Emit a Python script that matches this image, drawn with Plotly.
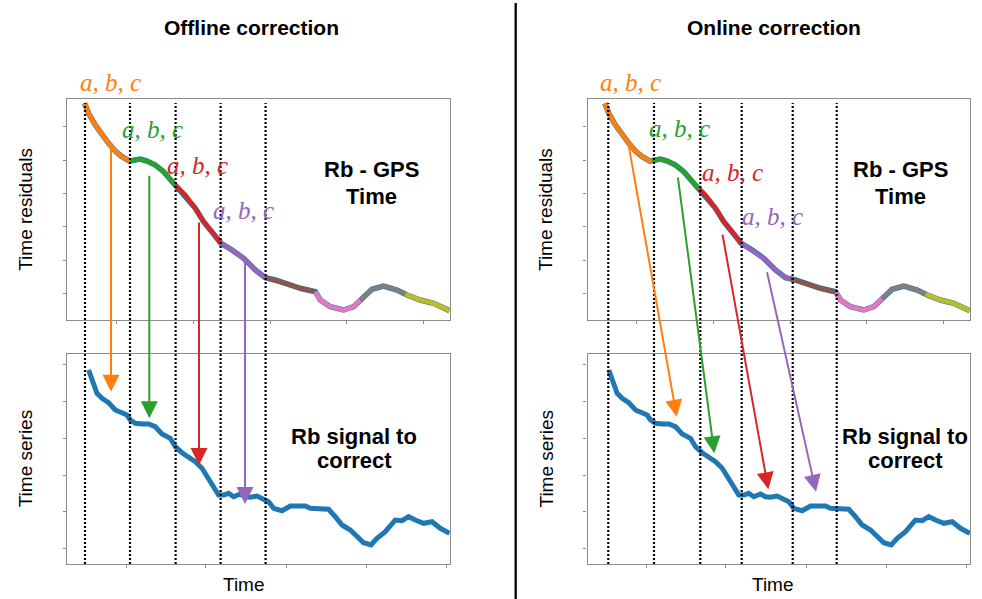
import numpy as np
import plotly.graph_objects as go

W, H = 982, 599

# ---------------- data ----------------
# time axis in arbitrary units (0 .. 382.5 across each panel)
res_t = [17.3, 21.3, 28, 34.7, 41.3, 48, 54.7, 62.3, 66.3, 73, 79.7, 88, 96.3, 108, 118,
         128, 136.3, 144.7, 153.7, 164.7, 176.3, 188, 198, 208, 216.3, 233, 248, 253, 263,
         276.3, 286.3, 294.7, 304.7, 316.3, 329.7, 339.7, 353, 366.3, 382.3]
res_y = [216.7, 206.7, 195, 185, 176.7, 169, 163.3, 159, 160, 161, 159, 155, 148.3, 135, 125,
         111.7, 98.3, 88.3, 76.7, 70, 61.7, 50, 42.3, 40, 37, 31.7, 28.3, 20, 13.3,
         10, 13.3, 21.7, 30.7, 34, 30, 25, 20, 16.7, 9.3]

ser_t = [21.3, 24.7, 29.7, 34.7, 41.3, 48, 54.7, 59.7, 63, 68, 74.7, 81.3, 88, 94.7, 103,
         108, 114.7, 123, 128, 134.7, 141.3, 148, 151.3, 156.3, 161.3, 166.3, 173, 178, 183,
         189.7, 196.3, 201.3, 206.3, 214.7, 223, 233, 238, 243, 253, 261.3, 268, 274.7, 283,
         289.7, 296.3, 303.7, 309.7, 318, 323, 328, 334.7, 341.3, 348, 356.3, 364.7, 373, 382.3]
ser_y = [194, 184, 170.7, 165.7, 161.3, 154, 150.7, 149, 144, 140.7, 140, 140, 137.3, 130, 125.7,
         117.3, 111.3, 105.7, 102.3, 95.7, 85.7, 74, 69, 69, 70.7, 67.3, 70, 67.3, 66.7,
         68, 64.7, 62.3, 55.7, 53.3, 58, 57.3, 58, 55.7, 55.7, 54.7, 47.3, 39, 34,
         27.3, 21.3, 19, 25.7, 32.3, 39, 44, 43.3, 47.3, 44, 40.7, 42.3, 35.7, 30.7]

seg_colors = ['#ff7f0e', '#2ca02c', '#d62728', '#9467bd', '#8c564b', '#e377c2', '#7f7f7f', '#bcbd22']
left_bounds = [17.3, 62.7, 108, 153.3, 198, 248, 293, 338, 382.3]
right_bounds = [17.3, 64.5, 111.5, 153.7, 203, 248.5, 294.5, 338, 382.3]
left_dotted = [17.7, 62.7, 108.3, 153.3, 198.3]
right_dotted = [20.8, 66.5, 112.8, 154.2, 205.2, 249.2]

# arrows: tail on residual panel (t, value) -> head on series panel (t, value)
left_tail_t = [43.7, 82, 131.7, 177.7]
left_tail_y = [171.7, 145.7, 99, 59]
left_head_t = [43.7, 82, 131.7, 177.7]
left_head_y = [172.3, 145.7, 99, 60]
right_tail_t = [40.8, 90.2, 134.8, 179.2]
right_tail_y = [176.7, 144, 86.7, 49.3]
right_head_t = [89.2, 126.8, 180.8, 228.5]
right_head_y = [147.3, 110.7, 74.7, 72.3]

# "a, b, c" label anchors (t, residual value at text baseline)
left_lab_t = [43.5, 84.7, 130.4, 176.4]
left_lab_y = [229, 182.3, 146, 101]
right_lab_t = [43.3, 91.7, 145, 184.7]
right_lab_y = [229, 183.3, 139.3, 95]

top_y_ticks = [26.7, 60, 93.3, 126.7, 160, 193.3]
bot_y_ticks = [15.7, 52.3, 89, 125.7, 163, 199.7]
top_x_ticks = [49.3, 126, 202.7, 279.3, 356]
bot_x_ticks = [58.7, 138.3, 218.7, 298.7, 378.7]

# ---------------- layout geometry ----------------
X_RANGE = [0, 382.5]
TOP_RANGE = [0, 221]
BOT_RANGE = [0, 210]
left_xdom = [67.3 / W, 449.8 / W]
right_xdom = [587.5 / W, 970 / W]
top_ydom = [1 - 320 / H, 1 - 99 / H]
bot_ydom = [1 - 564 / H, 1 - 354 / H]

SANS = "Liberation Sans, Arial, sans-serif"
SERIF = "Liberation Serif, Times New Roman, serif"


def xpix(t, dom):
    return (dom[0] + (t - X_RANGE[0]) / (X_RANGE[1] - X_RANGE[0]) * (dom[1] - dom[0])) * W


def ypix(v, dom, rng):
    return (1 - (dom[0] + (v - rng[0]) / (rng[1] - rng[0]) * (dom[1] - dom[0]))) * H


def segment(t, y, a, b):
    t = np.asarray(t, float)
    y = np.asarray(y, float)
    inner = (t > a) & (t < b)
    ts = np.concatenate([[a], t[inner], [b]])
    ys = np.concatenate([[np.interp(a, t, y)], y[inner], [np.interp(b, t, y)]])
    return ts, ys


fig = go.Figure()

panels = [
    dict(xa='x', ya='y', xb='x2', yb='y2', xdom=left_xdom, bounds=left_bounds, dotted=left_dotted,
         tail_t=left_tail_t, tail_y=left_tail_y, head_t=left_head_t, head_y=left_head_y,
         lab_t=left_lab_t, lab_y=left_lab_y, title='Offline correction', title_x=251.7, time_x=244,
         rb1_x=371, rb2_x=354),
    dict(xa='x3', ya='y3', xb='x4', yb='y4', xdom=right_xdom, bounds=right_bounds, dotted=right_dotted,
         tail_t=right_tail_t, tail_y=right_tail_y, head_t=right_head_t, head_y=right_head_y,
         lab_t=right_lab_t, lab_y=right_lab_y, title='Online correction', title_x=773.5, time_x=772.7,
         rb1_x=900, rb2_x=905),
]

annotations = []
shapes = []

for p in panels:
    # residual curve (blue underneath) + coloured segments
    fig.add_trace(go.Scatter(x=res_t, y=res_y, mode='lines', xaxis=p['xa'], yaxis=p['ya'],
                             line=dict(color='#1f77b4', width=5.5), hoverinfo='skip'))
    for i, c in enumerate(seg_colors):
        ts, ys = segment(res_t, res_y, p['bounds'][i], p['bounds'][i + 1])
        fig.add_trace(go.Scatter(x=ts, y=ys, mode='lines', xaxis=p['xa'], yaxis=p['ya'],
                                 line=dict(color=c, width=4.6), hoverinfo='skip'))
    # series to correct
    fig.add_trace(go.Scatter(x=ser_t, y=ser_y, mode='lines', xaxis=p['xb'], yaxis=p['yb'],
                             line=dict(color='#1f77b4', width=5), hoverinfo='skip'))

    # dotted separators spanning both panels
    for d in p['dotted']:
        shapes.append(dict(type='line', xref=p['xa'], yref='paper', x0=d, x1=d,
                           y0=bot_ydom[0], y1=top_ydom[1] - 4 / H,
                           line=dict(color='black', width=2.2, dash='2px,2px')))

    # arrows
    for i in range(4):
        hx = xpix(p['head_t'][i], p['xdom'])
        hy = ypix(p['head_y'][i], bot_ydom, BOT_RANGE)
        tx = xpix(p['tail_t'][i], p['xdom'])
        ty = ypix(p['tail_y'][i], top_ydom, TOP_RANGE)
        annotations.append(dict(xref='paper', yref='paper', x=hx / W, y=1 - hy / H,
                                axref='pixel', ayref='pixel', ax=tx - hx, ay=ty - hy,
                                text='', showarrow=True, arrowhead=2, arrowsize=1.7,
                                arrowwidth=2, arrowcolor=seg_colors[i], standoff=0, startstandoff=0))
        # "a, b, c" labels
        lx = xpix(p['lab_t'][i], p['xdom'])
        ly = ypix(p['lab_y'][i], top_ydom, TOP_RANGE) - 0.33 * 25
        annotations.append(dict(xref='paper', yref='paper', x=lx / W, y=1 - ly / H,
                                xanchor='center', yanchor='middle', showarrow=False,
                                text='a, b, c',
                                font=dict(family=SERIF, size=25, style='italic', color=seg_colors[i])))

    # texts
    annotations.append(dict(xref='paper', yref='paper', x=p['title_x'] / W, y=1 - 27.5 / H,
                            text=p['title'], showarrow=False, xanchor='center', yanchor='middle',
                            font=dict(family=SANS, size=21, weight='bold', color='black')))
    annotations.append(dict(xref='paper', yref='paper', x=p['rb1_x'] / W, y=1 - (177.3 - 0.35 * 22) / H,
                            text='Rb - GPS', showarrow=False, xanchor='center', yanchor='middle',
                            font=dict(family=SANS, size=22, weight='bold', color='black')))
    annotations.append(dict(xref='paper', yref='paper', x=p['rb1_x'] / W, y=1 - (204 - 0.35 * 22) / H,
                            text='Time', showarrow=False, xanchor='center', yanchor='middle',
                            font=dict(family=SANS, size=22, weight='bold', color='black')))
    annotations.append(dict(xref='paper', yref='paper', x=p['rb2_x'] / W, y=1 - (443.8 - 0.35 * 22) / H,
                            text='Rb signal to', showarrow=False, xanchor='center', yanchor='middle',
                            font=dict(family=SANS, size=22, weight='bold', color='black')))
    annotations.append(dict(xref='paper', yref='paper', x=p['rb2_x'] / W, y=1 - (468.3 - 0.35 * 22) / H,
                            text='correct', showarrow=False, xanchor='center', yanchor='middle',
                            font=dict(family=SANS, size=22, weight='bold', color='black')))
    annotations.append(dict(xref='paper', yref='paper', x=p['time_x'] / W, y=1 - 584 / H,
                            text='Time', showarrow=False, xanchor='center', yanchor='middle',
                            font=dict(family=SANS, size=19, color='black')))
    ylab_x = (p['xdom'][0] * W - 42) / W
    annotations.append(dict(xref='paper', yref='paper', x=ylab_x, y=(top_ydom[0] + top_ydom[1]) / 2,
                            text='Time residuals', showarrow=False, textangle=-90,
                            xanchor='center', yanchor='middle',
                            font=dict(family=SANS, size=19, color='black')))
    annotations.append(dict(xref='paper', yref='paper', x=ylab_x, y=(bot_ydom[0] + bot_ydom[1]) / 2,
                            text='Time series', showarrow=False, textangle=-90,
                            xanchor='center', yanchor='middle',
                            font=dict(family=SANS, size=19, color='black')))

# vertical divider between the two panels
shapes.append(dict(type='line', xref='paper', yref='paper', x0=515.7 / W, x1=515.7 / W,
                   y0=0, y1=1 - 3 / H, line=dict(color='black', width=2.3)))

axis_common = dict(showgrid=False, zeroline=False, showline=True, mirror=True,
                   linecolor='#8c8c8c', linewidth=1.3, ticks='outside', ticklen=3,
                   tickcolor='#8c8c8c', tickwidth=1, showticklabels=False, fixedrange=True)

fig.update_layout(
    width=W, height=H, margin=dict(l=0, r=0, t=0, b=0),
    paper_bgcolor='white', plot_bgcolor='white', showlegend=False,
    xaxis=dict(domain=left_xdom, range=X_RANGE, anchor='y', tickvals=top_x_ticks, **axis_common),
    yaxis=dict(domain=top_ydom, range=TOP_RANGE, anchor='x', tickvals=top_y_ticks, **axis_common),
    xaxis2=dict(domain=left_xdom, range=X_RANGE, anchor='y2', tickvals=bot_x_ticks, **axis_common),
    yaxis2=dict(domain=bot_ydom, range=BOT_RANGE, anchor='x2', tickvals=bot_y_ticks, **axis_common),
    xaxis3=dict(domain=right_xdom, range=X_RANGE, anchor='y3', tickvals=top_x_ticks, **axis_common),
    yaxis3=dict(domain=top_ydom, range=TOP_RANGE, anchor='x3', tickvals=top_y_ticks, **axis_common),
    xaxis4=dict(domain=right_xdom, range=X_RANGE, anchor='y4', tickvals=bot_x_ticks, **axis_common),
    yaxis4=dict(domain=bot_ydom, range=BOT_RANGE, anchor='x4', tickvals=bot_y_ticks, **axis_common),
    annotations=annotations, shapes=shapes,
)

fig.write_html("out.html", config=dict(displayModeBar=False))
